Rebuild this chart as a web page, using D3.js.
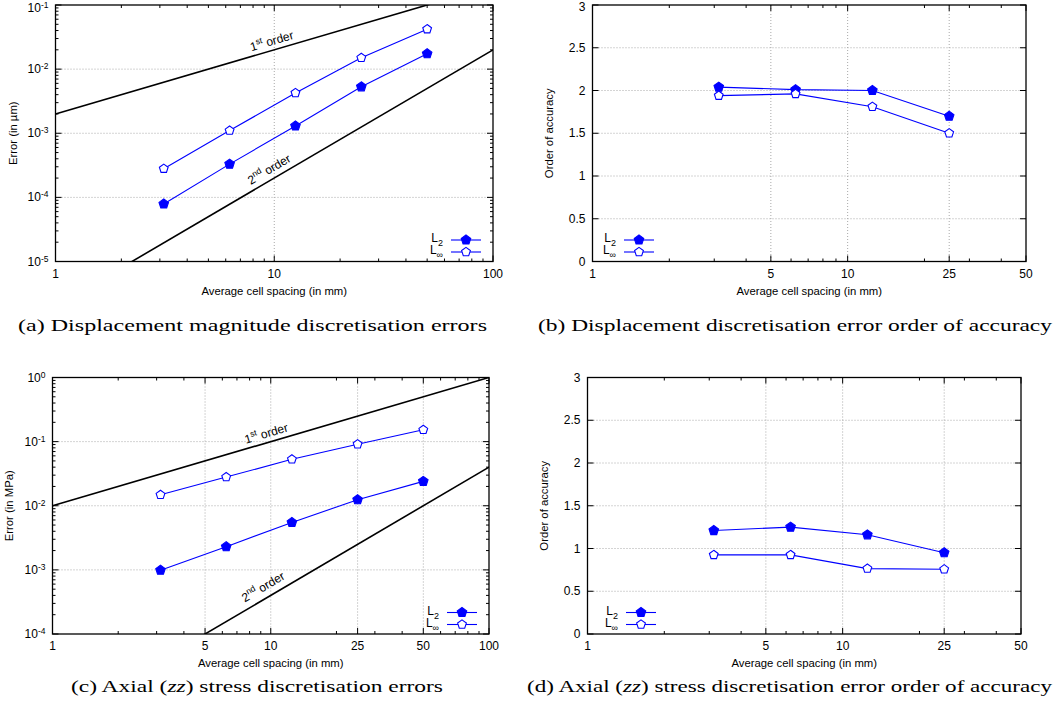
<!DOCTYPE html>
<html>
<head>
<meta charset="utf-8">
<script src="https://cdn.jsdelivr.net/npm/d3@7/dist/d3.min.js"></script>
<style>
  body { margin: 0; background: #fff; }
  text { font-family: "Liberation Sans", Arial, sans-serif; fill: #000; }
  .cap { font-family: "Liberation Serif", "DejaVu Serif", serif; font-size: 17px; }
</style>
</head>
<body>
<svg id="fig" width="1058" height="713"></svg>
<script>
// spacing (mm) of the five meshes, and the four finer ones used for order
const spacing = [3.125, 6.25, 12.5, 25, 50];
const orderSpacing = [3.125, 6.25, 12.5, 25];

// (a) displacement errors (um)
const dispErrL2 = [7.9e-5, 3.3e-4, 1.3e-3, 5.3e-3, 1.74e-2];
const dispErrLinf = [2.8e-4, 1.1e-3, 4.25e-3, 1.5e-2, 4.2e-2];
// (b) displacement order of accuracy
const dispOrderL2 = [2.04, 2.01, 2.0, 1.70];
const dispOrderLinf = [1.94, 1.96, 1.81, 1.50];
// (c) axial stress errors (MPa)
const stressErrL2 = [9.9e-4, 2.3e-3, 5.5e-3, 1.24e-2, 2.4e-2];
const stressErrLinf = [1.48e-2, 2.8e-2, 5.3e-2, 9.1e-2, 0.153];
// (d) axial stress order of accuracy
const stressOrderL2 = [1.21, 1.25, 1.16, 0.95];
const stressOrderLinf = [0.925, 0.925, 0.765, 0.757];

// theoretical slopes, as end points
const dispFirstOrder = [[1, 2e-3], [100, 0.2]];
const dispSecondOrder = [[1, 2e-6], [100, 2e-2]];
const stressFirstOrder = [[1, 1e-2], [100, 1]];
const stressSecondOrder = [[1, 4e-6], [100, 4e-2]];

const errXTicksA = [1, 10, 100];
const errXTicksC = [1, 5, 10, 25, 50, 100];
const orderXTicks = [1, 5, 10, 25, 50];
const orderYTicks = [0, 0.5, 1, 1.5, 2, 2.5, 3];
const dispYTicks = [1e-5, 1e-4, 1e-3, 1e-2, 1e-1];
const stressYTicks = [1e-4, 1e-3, 1e-2, 1e-1, 1];

const BLUE = '#0000ff';
const svg = d3.select('#fig');

function pentagon(r) {
  const pts = d3.range(5).map(k => {
    const a = -Math.PI / 2 + k * 2 * Math.PI / 5;
    return [r * Math.cos(a), r * Math.sin(a)];
  });
  return 'M' + pts.map(p => p.join(',')).join('L') + 'Z';
}

function minorLog(domain) {
  const out = [];
  for (let e = Math.floor(Math.log10(domain[0])); e < Math.ceil(Math.log10(domain[1])); e++) {
    for (let k = 2; k <= 9; k++) {
      const v = k * Math.pow(10, e);
      if (v > domain[0] && v < domain[1]) out.push(v);
    }
  }
  return out;
}

function powLabel(sel, v) {
  const e = Math.round(Math.log10(v));
  sel.append('tspan').text('10');
  sel.append('tspan').attr('dy', -4).style('font-size', '8.5px').text(e);
}

function drawPanel(p) {
  const g = svg.append('g');
  const x = d3.scaleLog().domain(p.xDomain).range([p.left, p.right]);
  const y = (p.yLog ? d3.scaleLog() : d3.scaleLinear()).domain(p.yDomain).range([p.bottom, p.top]);

  const clipId = 'clip' + p.id;
  svg.append('clipPath').attr('id', clipId).append('rect')
    .attr('x', p.left).attr('y', p.top).attr('width', p.right - p.left).attr('height', p.bottom - p.top);

  // grid
  const grid = g.append('g').attr('stroke', '#a8a8a8').attr('stroke-width', 1).attr('stroke-dasharray', '1,2');
  p.xTicks.filter(v => v > p.xDomain[0] && v < p.xDomain[1]).forEach(v => {
    grid.append('line').attr('x1', x(v)).attr('x2', x(v)).attr('y1', p.top).attr('y2', p.bottom);
  });
  p.yTicks.filter(v => v > p.yDomain[0] && v < p.yDomain[1]).forEach(v => {
    grid.append('line').attr('x1', p.left).attr('x2', p.right).attr('y1', y(v)).attr('y2', y(v));
  });

  // ticks, inward and mirrored
  const tk = g.append('g').attr('stroke', '#000').attr('stroke-width', 1);
  const xt = p.xTicks.map(v => [v, 6]).concat(minorLog(p.xDomain).filter(v => !p.xTicks.includes(v)).map(v => [v, 3]));
  xt.forEach(([v, l]) => {
    tk.append('line').attr('x1', x(v)).attr('x2', x(v)).attr('y1', p.bottom).attr('y2', p.bottom - l);
    tk.append('line').attr('x1', x(v)).attr('x2', x(v)).attr('y1', p.top).attr('y2', p.top + l);
  });
  const yt = p.yTicks.map(v => [v, 6]).concat(p.yLog ? minorLog(p.yDomain).map(v => [v, 3]) : []);
  yt.forEach(([v, l]) => {
    tk.append('line').attr('y1', y(v)).attr('y2', y(v)).attr('x1', p.left).attr('x2', p.left + l);
    tk.append('line').attr('y1', y(v)).attr('y2', y(v)).attr('x1', p.right).attr('x2', p.right - l);
  });

  // tick labels
  p.xTicks.forEach(v => {
    g.append('text').attr('x', x(v)).attr('y', p.bottom + 16).attr('text-anchor', 'middle')
      .style('font-size', '12px').text(v);
  });
  p.yTicks.forEach(v => {
    const t = g.append('text').attr('x', p.left - 7).attr('y', Math.max(y(v) + 4, p.yLog ? 12 : 11))
      .attr('text-anchor', 'end').style('font-size', '12px');
    if (p.yLog) powLabel(t, v); else t.text(v);
  });

  // axis titles
  g.append('text').attr('x', (p.left + p.right) / 2).attr('y', p.bottom + 33).attr('text-anchor', 'middle')
    .style('font-size', '11.3px').text('Average cell spacing (in mm)');
  g.append('text').attr('transform', `translate(${p.yLabelX},${(p.top + p.bottom) / 2}) rotate(-90)`)
    .attr('text-anchor', 'middle').style('font-size', '11.3px').text(p.yLabel);

  // reference slopes
  (p.refs || []).forEach(ref => {
    const lg = d3.line().x(d => x(d[0])).y(d => y(d[1]));
    g.append('path').attr('d', lg(ref.pts)).attr('clip-path', `url(#${clipId})`)
      .attr('fill', 'none').attr('stroke', '#000').attr('stroke-width', 1.6);
    const [a, b] = ref.pts;
    const ang = Math.atan2(y(b[1]) - y(a[1]), x(b[0]) - x(a[0])) * 180 / Math.PI;
    const t = (Math.log(ref.at) - Math.log(a[0])) / (Math.log(b[0]) - Math.log(a[0]));
    const yv = Math.exp(Math.log(a[1]) + t * (Math.log(b[1]) - Math.log(a[1])));
    const txt = g.append('text')
      .attr('transform', `translate(${x(ref.at)},${y(yv)}) rotate(${ang})`)
      .attr('y', -ref.off).attr('text-anchor', 'middle').style('font-size', '12px');
    txt.append('tspan').text(ref.n);
    txt.append('tspan').attr('dy', -5).style('font-size', '8.5px').text(ref.sup);
    txt.append('tspan').attr('dy', 5).text(' order');
  });

  // data
  p.series.forEach(s => {
    const pts = s.xs.map((v, i) => [v, s.ys[i]]);
    g.append('path').attr('d', d3.line().x(d => x(d[0])).y(d => y(d[1]))(pts))
      .attr('fill', 'none').attr('stroke', BLUE).attr('stroke-width', 1.1);
    g.selectAll(null).data(pts).enter().append('path')
      .attr('d', pentagon(s.filled ? 5 : 4.6))
      .attr('transform', d => `translate(${x(d[0])},${y(d[1])})`)
      .attr('fill', s.filled ? BLUE : '#fff').attr('stroke', BLUE).attr('stroke-width', 1.1);
  });

  // legend
  p.series.forEach((s, i) => {
    const ly = p.legend.y + i * 12;
    const t = g.append('text').attr('x', p.legend.x).attr('y', ly + 2).attr('text-anchor', 'end')
      .style('font-size', '12px');
    t.append('tspan').text('L');
    t.append('tspan').attr('dy', 4).style('font-size', '9px').text(s.sub);
    g.append('line').attr('x1', p.legend.x + 8).attr('x2', p.legend.x + 38).attr('y1', ly).attr('y2', ly)
      .attr('stroke', BLUE).attr('stroke-width', 1.1);
    g.append('path').attr('d', pentagon(s.filled ? 5 : 4.6))
      .attr('transform', `translate(${p.legend.x + 23},${ly})`)
      .attr('fill', s.filled ? BLUE : '#fff').attr('stroke', BLUE).attr('stroke-width', 1.1);
  });

  // frame
  g.append('rect').attr('x', p.left).attr('y', p.top).attr('width', p.right - p.left).attr('height', p.bottom - p.top)
    .attr('fill', 'none').attr('stroke', '#000').attr('stroke-width', 1.3);
}

drawPanel({
  id: 'a', left: 55.5, right: 493, top: 5, bottom: 261.5,
  xDomain: [1, 100], xTicks: errXTicksA, yLog: true, yDomain: [1e-5, 1e-1], yTicks: dispYTicks,
  yLabel: 'Error (in \u00b5m)', yLabelX: 17,
  refs: [
    { pts: dispFirstOrder, at: 10, off: 5, n: '1', sup: 'st' },
    { pts: dispSecondOrder, at: 10, off: 6, n: '2', sup: 'nd' }
  ],
  series: [
    { xs: spacing, ys: dispErrL2, filled: true, sub: '2' },
    { xs: spacing, ys: dispErrLinf, filled: false, sub: '\u221e' }
  ],
  legend: { x: 443, y: 240 }
});

drawPanel({
  id: 'b', left: 592.5, right: 1026, top: 5, bottom: 261.5,
  xDomain: [1, 50], xTicks: orderXTicks, yLog: false, yDomain: [0, 3], yTicks: orderYTicks,
  yLabel: 'Order of accuracy', yLabelX: 553,
  series: [
    { xs: orderSpacing, ys: dispOrderL2, filled: true, sub: '2' },
    { xs: orderSpacing, ys: dispOrderLinf, filled: false, sub: '\u221e' }
  ],
  legend: { x: 616, y: 240 }
});

drawPanel({
  id: 'c', left: 52.5, right: 489, top: 377.5, bottom: 634,
  xDomain: [1, 100], xTicks: errXTicksC, yLog: true, yDomain: [1e-4, 1], yTicks: stressYTicks,
  yLabel: 'Error (in MPa)', yLabelX: 13,
  refs: [
    { pts: stressFirstOrder, at: 9.8, off: 5, n: '1', sup: 'st' },
    { pts: stressSecondOrder, at: 9.8, off: 7, n: '2', sup: 'nd' }
  ],
  series: [
    { xs: spacing, ys: stressErrL2, filled: true, sub: '2' },
    { xs: spacing, ys: stressErrLinf, filled: false, sub: '\u221e' }
  ],
  legend: { x: 439, y: 612.5 }
});

drawPanel({
  id: 'd', left: 587.5, right: 1021, top: 377.5, bottom: 634,
  xDomain: [1, 50], xTicks: orderXTicks, yLog: false, yDomain: [0, 3], yTicks: orderYTicks,
  yLabel: 'Order of accuracy', yLabelX: 548,
  series: [
    { xs: orderSpacing, ys: stressOrderL2, filled: true, sub: '2' },
    { xs: orderSpacing, ys: stressOrderLinf, filled: false, sub: '\u221e' }
  ],
  legend: { x: 618, y: 612.5 }
});

// sub-figure captions
function caption(x0, x1, yb, parts) {
  const t = svg.append('text').attr('class', 'cap').attr('x', x0).attr('y', yb)
    .attr('textLength', x1 - x0).attr('lengthAdjust', 'spacingAndGlyphs');
  parts.forEach(([s, it]) => t.append('tspan').style('font-style', it ? 'italic' : 'normal').text(s));
}
caption(18, 487, 331, [['(a) Displacement magnitude discretisation errors']]);
caption(538, 1052, 331, [['(b) Displacement discretisation error order of accuracy']]);
caption(71, 443, 692, [['(c) Axial ('], ['zz', true], [') stress discretisation errors']]);
caption(527, 1052, 692, [['(d) Axial ('], ['zz', true], [') stress discretisation error order of accuracy']]);
</script>
</body>
</html>
